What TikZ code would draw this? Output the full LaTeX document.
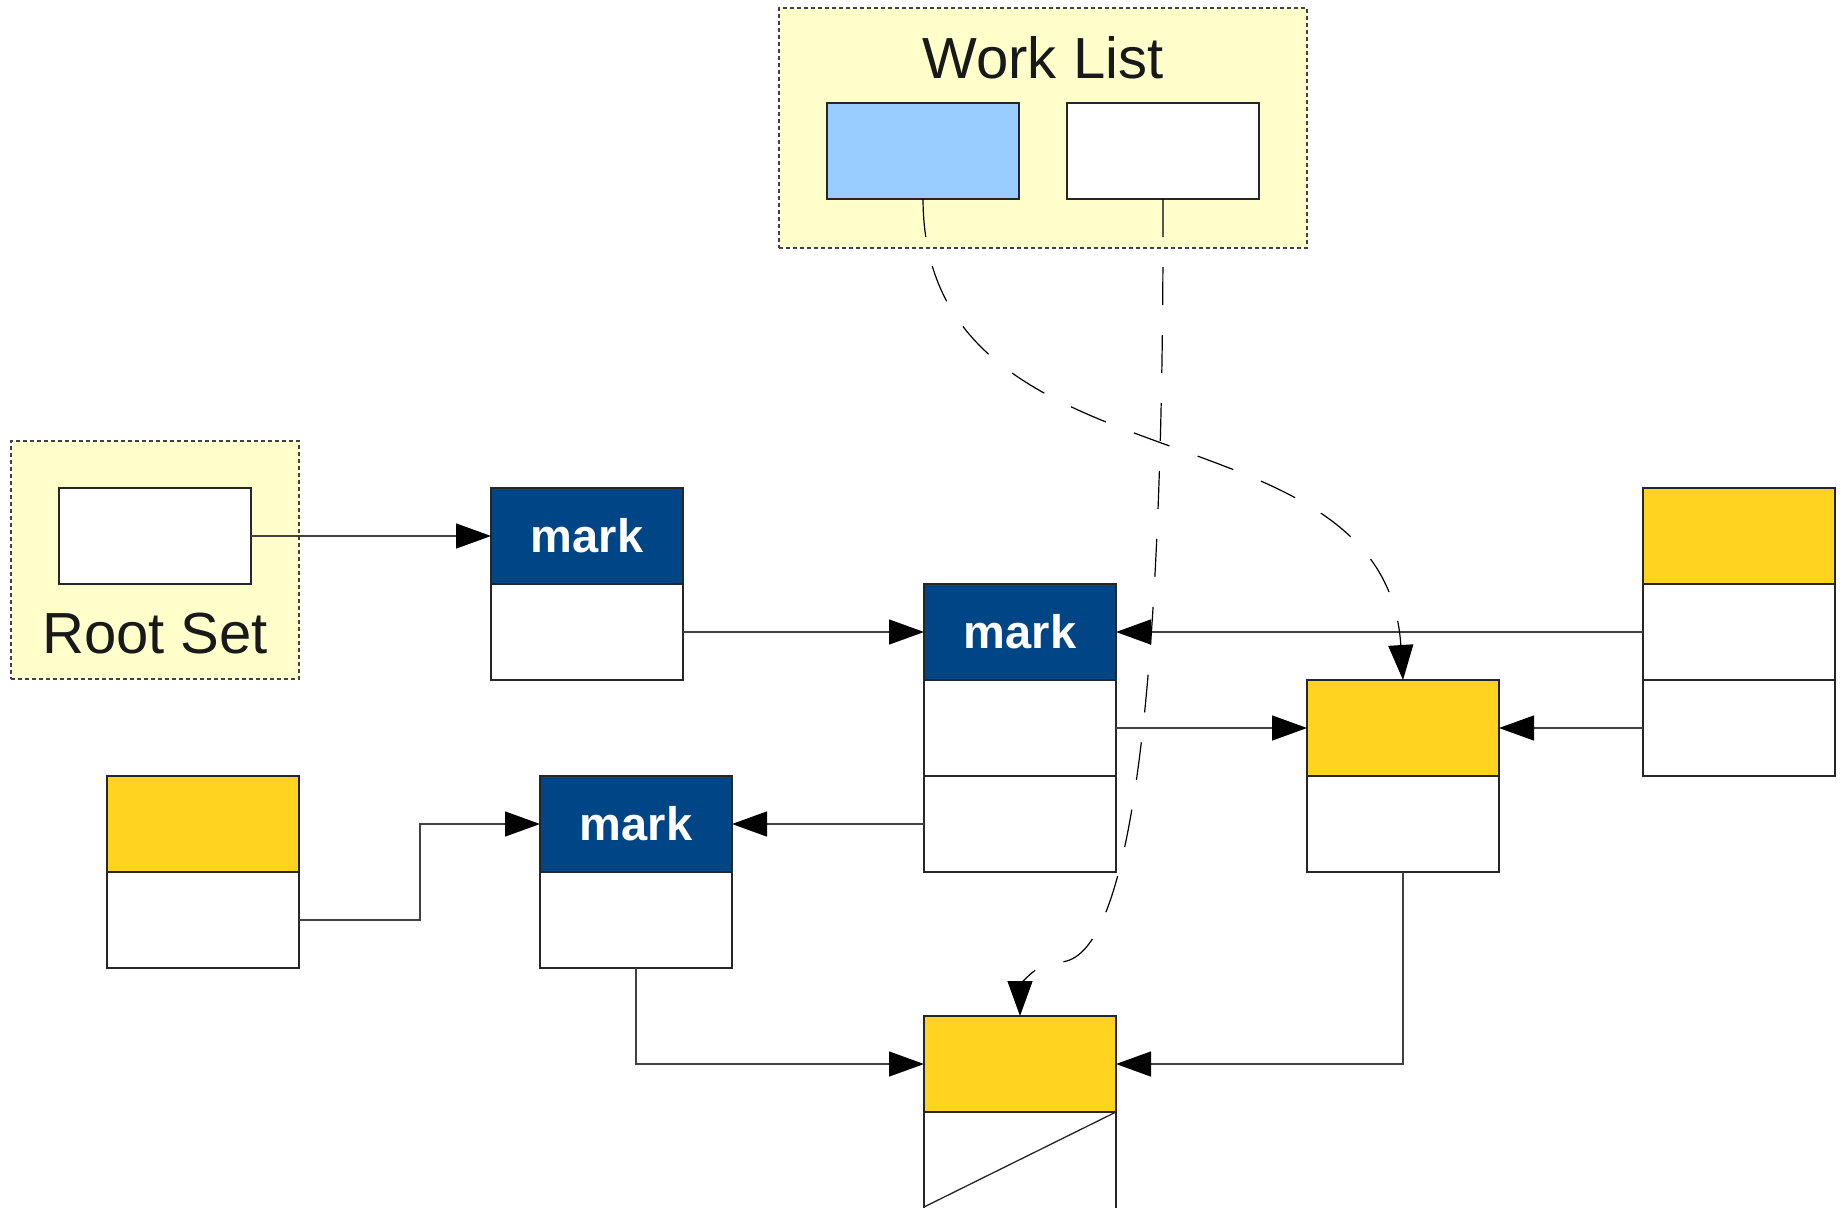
\documentclass[tikz,border=0pt]{standalone}
\usepackage{fontspec}
\setmainfont{Liberation Sans}
\usetikzlibrary{arrows.meta}
\definecolor{ltyellow}{HTML}{FFFFCC}
\definecolor{ltblue}{HTML}{99CCFF}
\definecolor{dkblue}{HTML}{004586}
\definecolor{gold}{HTML}{FFD320}
\begin{document}
\begin{tikzpicture}[x=1pt,y=-1pt,
  grp/.style={draw=black!75, fill=ltyellow, dash pattern=on 4pt off 3pt, line width=1.2pt,
              inner sep=0pt, outer sep=0pt, anchor=north west},
  cell/.style={draw=black!85, fill=white, line width=1.3pt, minimum width=192pt, minimum height=96pt,
               inner sep=0pt, outer sep=0pt, anchor=north west},
  markcell/.style={cell, fill=dkblue, text=white, font=\fontsize{47}{50}\selectfont\bfseries},
  goldcell/.style={cell, fill=gold},
  bluecell/.style={cell, fill=ltblue},
  grptext/.style={anchor=base, inner sep=0pt, font=\fontsize{58}{60}\selectfont, text=black!90},
  tip/.style={-{Triangle[length=35pt,width=25pt,color=black]}},
  conn/.style={draw=black!75, line width=1.3pt, tip},
  dconn/.style={draw=black, line width=1.2pt, dash pattern=on 38pt off 30pt, tip}
]
\useasboundingbox (0,0) rectangle (1843,1207);

% groups
\node[grp, minimum width=528pt, minimum height=240pt] (wl) at (779,8) {};
\node[grptext] (wltext) at (1043,78) {Work List};
\node[grp, minimum width=288pt, minimum height=238pt] (rs) at (11,441) {};
\node[grptext] (rstext) at (155,653) {Root Set};

% work list cells
\node[bluecell] (wlA) at (827,103) {};
\node[cell] (wlB) at (1067,103) {};
% root set cell
\node[cell] (rsA) at (59,488) {};

% mark 1
\node[markcell] (m1h) at (491,488) {mark};
\node[cell] (m1a) at (491,584) {};
% mark 2
\node[markcell] (m2h) at (924,584) {mark};
\node[cell] (m2a) at (924,680) {};
\node[cell] (m2b) at (924,776) {};
% mark 3
\node[markcell] (m3h) at (540,776) {mark};
\node[cell] (m3a) at (540,872) {};
% right yellow
\node[goldcell] (y1h) at (1643,488) {};
\node[cell] (y1a) at (1643,584) {};
\node[cell] (y1b) at (1643,680) {};
% middle yellow
\node[goldcell] (y2h) at (1307,680) {};
\node[cell] (y2a) at (1307,776) {};
% left yellow
\node[goldcell] (y3h) at (107,776) {};
\node[cell] (y3a) at (107,872) {};
% bottom yellow
\node[cell, minimum height=100pt] (y4a) at (924,1112) {};
\node[goldcell] (y4h) at (924,1016) {};
\draw[black!85, line width=1.3pt] (y4a.north east) -- (924,1207);

% connectors
\draw[conn] (rsA.east) -- (m1h.west);
\draw[conn] (m1a.east) -- (m2h.west);
\draw[conn] (y1a.west) -- (m2h.east);
\draw[conn] (m2a.east) -- (y2h.west);
\draw[conn] (y1b.west) -- (y2h.east);
\draw[conn] (m2b.west) -- (m3h.east);
\draw[conn] (y3a.east) -- ++(121,0) |- (m3h.west);
\draw[conn] (m3a.south) |- (y4h.west);
\draw[conn] (y2a.south) |- (y4h.east);

% dashed connectors
\draw[dconn] (wlA.south) .. controls (924,500) and (1385,395) .. (y2h.north);
\draw[dconn] (wlB.south) .. controls (1164,700) and (1130,960) .. (1060,962)
  .. controls (1032,962) and (1020,990) .. (y4h.north);
\end{tikzpicture}
\end{document}
